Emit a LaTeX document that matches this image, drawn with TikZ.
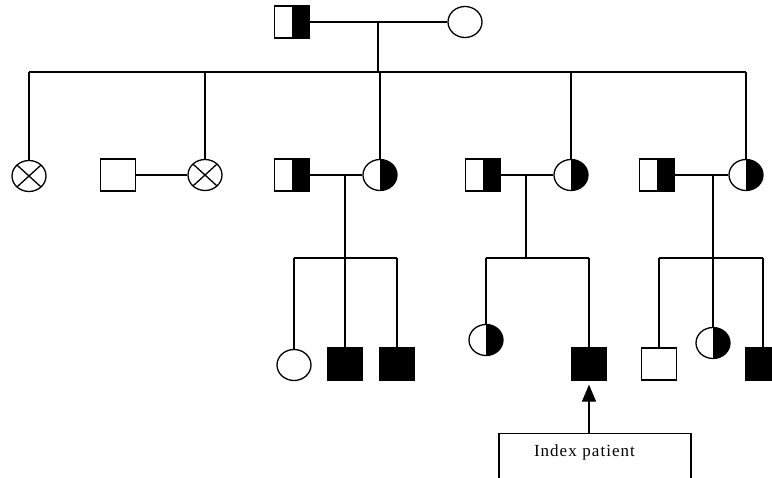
\documentclass[tikz,border=0pt]{standalone}
\usepackage{fontspec}
\newfontfamily\idxfont[LetterSpace=6]{Liberation Serif}
\usepackage{tikz}
\usetikzlibrary{arrows.meta,shapes.geometric}

\tikzset{
  male/.style={draw, rectangle, line width=1.3pt, minimum width=35pt, minimum height=32pt, inner sep=0pt},
  female/.style={draw, ellipse, line width=1.3pt, minimum width=34pt, minimum height=31pt, inner sep=0pt},
  affected/.style={fill=black},
  carrier/.style={path picture={\fill[black] (path picture bounding box.north) rectangle (path picture bounding box.south east);}},
  deceased/.style={path picture={\draw[line width=1.3pt] (path picture bounding box.north west) -- (path picture bounding box.south east)
      (path picture bounding box.north east) -- (path picture bounding box.south west);}},
  link/.style={line width=1.2pt},
  idxbox/.style={draw, line width=1.2pt, minimum height=46pt, inner xsep=35pt, text width=122pt, align=left,
      text height=11pt, text depth=12pt, font=\fontsize{17}{19}\idxfont}
}

\begin{document}
\begin{tikzpicture}[x=1pt,y=-1pt]
        \useasboundingbox (0,0) rectangle (772,478);
        \clip (0,0) rectangle (772,478);

        % first generation
        \node[male,carrier] (gf) at (292,22) {};
        \node[female] (gm) at (465,22) {};
        \draw[link] (gf) -- (gm);
        \coordinate (sib) at (0,72);
        \coordinate (kids) at (0,258);
        \coordinate (m0) at (378,22);
        \draw[link] (m0) -- (m0 |- sib);

        % second generation
        \node[female,deceased] (a) at (29,176) {};
        \node[male] (ah) at (118,175) {};
        \node[female,deceased] (b) at (205,175) {};
        \node[male,carrier] (ch) at (292,175) {};
        \node[female,carrier] (c) at (380,175) {};
        \node[male,carrier] (dh) at (483,175) {};
        \node[female,carrier] (d) at (571,175) {};
        \node[male,carrier] (eh) at (657,175) {};
        \node[female,carrier] (e) at (746,175) {};

        \draw[link] (a.north |- sib) -- (e.north |- sib);
        \foreach \n in {a,b,c,d,e}
            \draw[link] (\n.north) -- (\n.north |- sib);
        \foreach \h/\w in {ah/b,ch/c,dh/d,eh/e}
            \draw[link] (\h) -- (\w);

        \foreach \name/\x in {m1/345,m2/526,m3/713} {
            \coordinate (\name) at (\x,175);
            \draw[link] (\name) -- (\name |- kids);
        }

        % third generation
        \node[female] (c1) at (294,365) {};
        \node[male,affected] (c2) at (345,364) {};
        \node[male,affected] (c3) at (397,364) {};
        \node[female,carrier] (d1) at (486,340) {};
        \node[male,affected] (d2) at (589,364) {};
        \node[male] (e1) at (659,364) {};
        \node[female,carrier] (e2) at (713,343) {};
        \node[male,affected] (e3) at (763,364) {};

        \foreach \l/\r in {c1/c3,d1/d2,e1/e3}
            \draw[link] (\l.north |- kids) -- (\r.north |- kids);
        \foreach \n in {c1,c2,c3,d1,d2,e1,e2,e3}
            \draw[link] (\n.north) -- (\n.north |- kids);

        \node[idxbox, anchor=north] (idx) at (595,433) {Index patient};
        \draw[link,-{Triangle[width=14pt,length=17pt]},shorten >=4pt] (idx.north -| d2) -- (d2.south);
    \end{tikzpicture}
\end{document}
